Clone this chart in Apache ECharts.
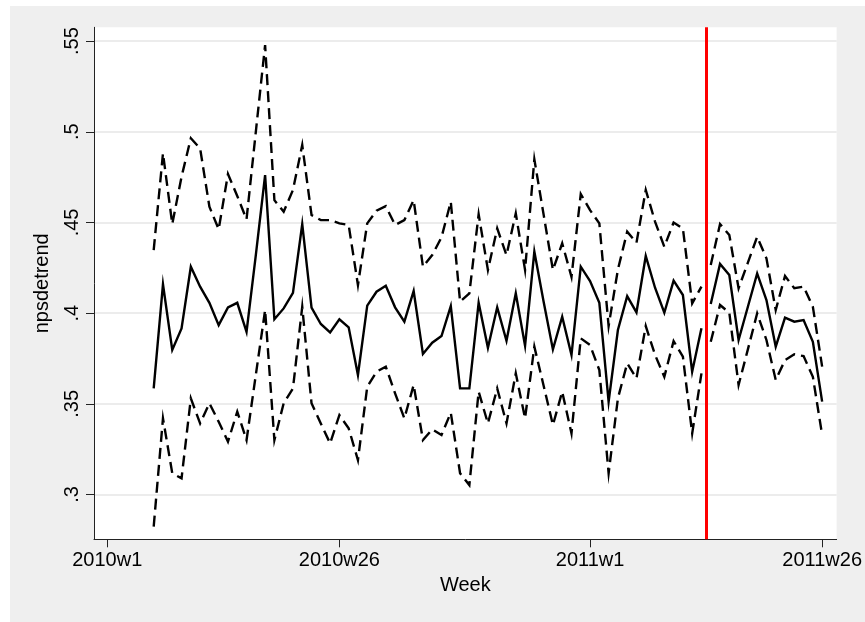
<!DOCTYPE html>
<html>
<head>
<meta charset="utf-8">
<title>npsdetrend by week</title>
<script src="https://cdn.jsdelivr.net/npm/echarts@6/dist/echarts.min.js"></script>
<style>
  html, body { margin: 0; padding: 0; background: #ffffff; }
  #frame { position: absolute; left: 10px; top: 6px; width: 855px; height: 616px; background: #efefef; }
  #chart { width: 855px; height: 616px; }
</style>
</head>
<body>
<div id="frame"><div id="chart"></div></div>
<script>
// Weekly series, 2010w6 through 2011w26
const firstWeek = '2010w6';
const lastPreWeek = '2011w13';   // last week before the break (vertical rule follows it)

// Fitted value of npsdetrend
const fitted = [
  0.3585, 0.4159, 0.3797, 0.3916, 0.4256, 0.4146, 0.4057, 0.3934, 0.4032, 0.4057,
  0.3897, 0.4320, 0.4761, 0.3966, 0.4026, 0.4112, 0.4491, 0.4030, 0.3940, 0.3894,
  0.3966, 0.3922, 0.3659, 0.4041, 0.4118, 0.4151, 0.4032, 0.3953, 0.4122, 0.3775,
  0.3837, 0.3874, 0.4039, 0.3585, 0.3585, 0.4057, 0.3809, 0.4032, 0.3848, 0.4109,
  0.3820, 0.4339, 0.4063, 0.3800, 0.3980, 0.3769, 0.4256, 0.4177, 0.4057, 0.3512,
  0.3907, 0.4094, 0.4004, 0.4315, 0.4140, 0.4002, 0.4179, 0.4100, 0.3677, 0.3916,
  0.4050, 0.4271, 0.4210, 0.3852, 0.4035, 0.4219, 0.4072, 0.3815, 0.3975, 0.3953,
  0.3962, 0.3842, 0.3512
];

// Upper confidence bound
const upper = [
  0.4348, 0.4881, 0.4491, 0.4752, 0.4964, 0.4908, 0.4587, 0.4462, 0.4767, 0.4646,
  0.4517, 0.5000, 0.5478, 0.4623, 0.4559, 0.4679, 0.4927, 0.4541, 0.4513, 0.4513,
  0.4495, 0.4486, 0.4155, 0.4495, 0.4565, 0.4590, 0.4486, 0.4513, 0.4623, 0.4256,
  0.4320, 0.4418, 0.4614, 0.4063, 0.4109, 0.4545, 0.4238, 0.4467, 0.4320, 0.4550,
  0.4238, 0.4848, 0.4543, 0.4238, 0.4385, 0.4200, 0.4657, 0.4568, 0.4495, 0.3929,
  0.4240, 0.4449, 0.4388, 0.4679, 0.4505, 0.4366, 0.4500, 0.4467, 0.4054, 0.4146,
  0.4265, 0.4491, 0.4431, 0.4137, 0.4278, 0.4421, 0.4302, 0.4017, 0.4205, 0.4137,
  0.4146, 0.4035, 0.3705
];

// Lower confidence bound
const lower = [
  0.2823, 0.3420, 0.3117, 0.3089, 0.3530, 0.3392, 0.3503, 0.3401, 0.3291, 0.3457,
  0.3300, 0.3660, 0.4017, 0.3300, 0.3503, 0.3585, 0.4035, 0.3503, 0.3392, 0.3282,
  0.3438, 0.3365, 0.3190, 0.3594, 0.3677, 0.3705, 0.3558, 0.3420, 0.3604, 0.3300,
  0.3359, 0.3328, 0.3451, 0.3117, 0.3052, 0.3567, 0.3392, 0.3585, 0.3392, 0.3668,
  0.3420, 0.3815, 0.3600, 0.3383, 0.3567, 0.3337, 0.3861, 0.3824, 0.3686, 0.3117,
  0.3530, 0.3723, 0.3641, 0.3929, 0.3770, 0.3649, 0.3846, 0.3760, 0.3337, 0.3668,
  0.3842, 0.4045, 0.4002, 0.3604, 0.3800, 0.3999, 0.3852, 0.3631, 0.3741, 0.3773,
  0.3763, 0.3649, 0.3328
];

// Axis ticks
const xTickLabels = ['2010w1', '2010w26', '2011w1', '2011w26'];
const yTickValues = [0.3, 0.35, 0.4, 0.45, 0.5, 0.55];
const yTickLabels = ['.3', '.35', '.4', '.45', '.5', '.55'];

// Stata-style weekly index: 52 weeks per year, 2010w1 = 0
function weekIndex(label) {
  const m = /^(\d{4})w(\d{1,2})$/.exec(label);
  return (Number(m[1]) - 2010) * 52 + Number(m[2]) - 1;
}

const start = weekIndex(firstWeek);
const breakIdx = weekIndex(lastPreWeek);
const xTickValues = xTickLabels.map(weekIndex);
const xLabelOf = {};
xTickValues.forEach((v, i) => { xLabelOf[v] = xTickLabels[i]; });
const yLabelOf = {};
yTickValues.forEach((v, i) => { yLabelOf[v.toFixed(2)] = yTickLabels[i]; });

function pairs(values, pre) {
  const out = [];
  values.forEach((v, i) => {
    const w = start + i;
    if (pre ? w <= breakIdx : w > breakIdx) out.push([w, v]);
  });
  return out;
}

const FONT = '"Liberation Sans", Arial, Helvetica, sans-serif';
const DASH = [11, 6];

function lineSeries(name, values, pre, dashed) {
  return {
    name: name,
    type: 'line',
    data: pairs(values, pre),
    showSymbol: false,
    symbol: 'none',
    silent: true,
    lineStyle: { color: '#000000', width: 2.4, type: dashed ? DASH : 'solid', join: 'miter' },
    z: 3
  };
}

const series = [
  lineSeries('upper', upper, true, true),
  lineSeries('upper', upper, false, true),
  lineSeries('lower', lower, true, true),
  lineSeries('lower', lower, false, true),
  lineSeries('fitted', fitted, true, false),
  lineSeries('fitted', fitted, false, false)
];

// Vertical rule halfway between the last pre-break week and the first post-break week
series[4].markLine = {
  silent: true,
  symbol: ['none', 'none'],
  label: { show: false },
  lineStyle: { color: '#ff0000', width: 3, type: 'solid' },
  data: [{ xAxis: breakIdx + 0.5 }],
  animation: false
};

const chart = echarts.init(document.getElementById('chart'), null, { renderer: 'canvas' });
chart.setOption({
  animation: false,
  backgroundColor: 'transparent',
  grid: {
    left: 84, top: 21.3, width: 744.5, height: 512,
    show: true, backgroundColor: '#ffffff', borderWidth: 0
  },
  xAxis: {
    type: 'value',
    min: -1.43,
    max: 78.56,
    name: 'Week',
    nameLocation: 'middle',
    nameGap: 35,
    nameTextStyle: { fontFamily: FONT, fontSize: 20, color: '#000' },
    axisLine: { show: true, onZero: false, lineStyle: { color: '#222', width: 1 } },
    axisTick: { show: true, length: 8, customValues: xTickValues, lineStyle: { color: '#222', width: 1 } },
    axisLabel: {
      customValues: xTickValues,
      margin: 11,
      fontFamily: FONT, fontSize: 20, color: '#000',
      formatter: v => xLabelOf[v] || ''
    },
    splitLine: { show: false }
  },
  yAxis: {
    type: 'value',
    min: 0.2753,
    max: 0.5576,
    name: 'npsdetrend',
    nameLocation: 'middle',
    nameGap: 42,
    nameTextStyle: { fontFamily: FONT, fontSize: 20, color: '#000' },
    axisLine: { show: true, onZero: false, lineStyle: { color: '#222', width: 1 } },
    axisTick: { show: true, length: 8, customValues: yTickValues, lineStyle: { color: '#222', width: 1 } },
    axisLabel: {
      customValues: yTickValues,
      rotate: 90,
      margin: 12,
      fontFamily: FONT, fontSize: 20, color: '#000',
      formatter: v => yLabelOf[Number(v).toFixed(2)] || ''
    },
    splitLine: { show: true, lineStyle: { color: '#e6e6e6', width: 1.6 } }
  },
  series: series
});
</script>
</body>
</html>
